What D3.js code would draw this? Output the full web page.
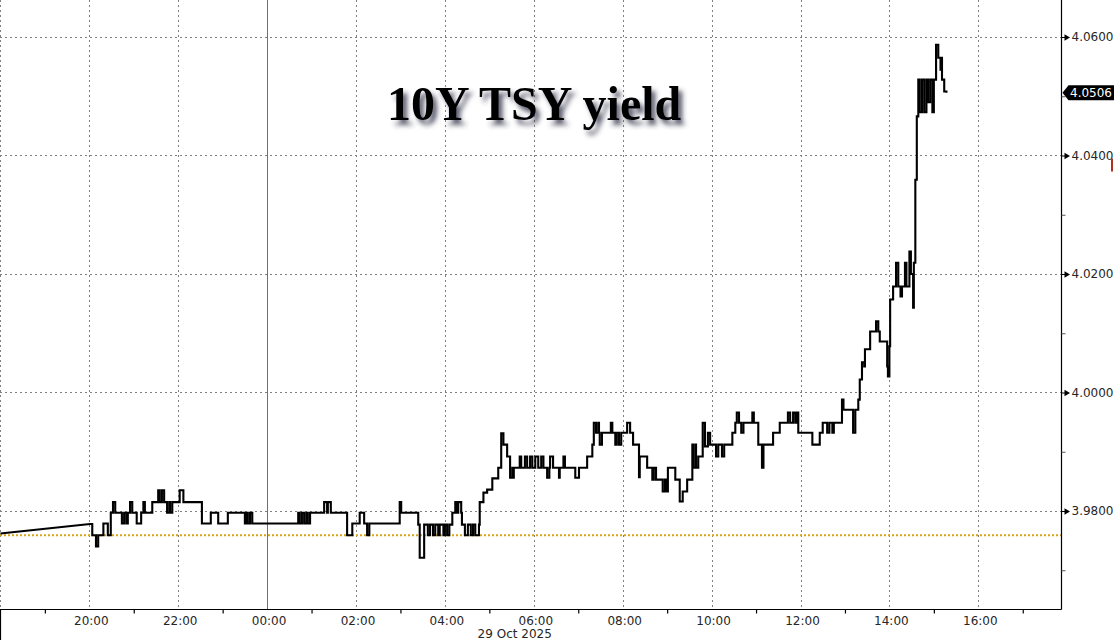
<!DOCTYPE html>
<html>
<head>
<meta charset="utf-8">
<script src="https://cdn.jsdelivr.net/npm/d3@7"></script>
<style>
  html, body { margin: 0; padding: 0; background: #ffffff; }
  svg { display: block; }
</style>
</head>
<body>
<svg id="chart" width="1114" height="640"></svg>
<script>
// ---------------- DATA ----------------
const title = "10Y TSY yield";
const dateLabel = "29 Oct 2025";
const prevClose = 3.9759;
const lastValue = 4.0506;
const yMajorTicks = [3.98, 4.00, 4.02, 4.04, 4.06];
const yMinorTicks = [3.97, 3.99, 4.01, 4.03, 4.05];
const xLabelHours = ["18:00","20:00","22:00","00:00","02:00","04:00","06:00","08:00","10:00","12:00","14:00","16:00"];
const xMinorHours = ["19:00","21:00","23:00","01:00","03:00","05:00","07:00","09:00","11:00","13:00","15:00","17:00"];

// tick times (HH:MM; hours >= 18 are 28 Oct, else 29 Oct)
const times = [
  "18:00","20:01","20:04","20:09","20:12","20:19","20:25","20:29","20:32","20:35",
  "20:44","20:47","20:50","20:52","20:55","20:58","21:04","21:10","21:13","21:15",
  "21:25","21:33","21:35","21:38","21:41","21:45","21:48","21:49","21:52","22:02",
  "22:07","22:32","22:44","22:54","23:07","23:30","23:32","23:34","23:37","23:40",
  "00:42","00:44","00:47","00:50","00:53","00:55","00:58","01:17","01:21","01:22",
  "01:26","01:48","01:55","02:05","02:11","02:15","02:18","02:59","03:01","03:24",
  "03:26","03:32","03:37","03:40","03:44","03:47","03:51","03:53","03:58","04:00",
  "04:03","04:06","04:10","04:14","04:16","04:18","04:22","04:23","04:27","04:31",
  "04:35","04:38","04:41","04:46","04:47","04:52","04:57","05:04","05:12","05:16",
  "05:19","05:24","05:28","05:31","05:32","05:33","05:41","05:43","05:48","05:51",
  "05:55","05:58","06:02","06:06","06:10","06:13","06:18","06:21","06:22","06:26",
  "06:34","06:35","06:40","06:42","06:56","07:01","07:12","07:19","07:21","07:24",
  "07:27","07:28","07:29","07:32","07:44","07:46","07:50","07:52","07:55","07:58",
  "08:06","08:10","08:14","08:22","08:23","08:33","08:40","08:42","08:45","08:54",
  "08:57","08:59","09:01","09:11","09:17","09:21","09:27","09:34","09:35","09:38",
  "09:39","09:42","09:48","09:51","09:55","09:58","10:06","10:09","10:14","10:17",
  "10:28","10:32","10:34","10:37","10:40","10:43","10:55","10:57","11:03","11:08",
  "11:10","11:23","11:32","11:43","11:46","11:50","11:53","11:55","11:57","12:16",
  "12:26","12:30","12:36","12:39","12:43","12:45","12:56","12:58","13:11","13:14",
  "13:18","13:20","13:23","13:26","13:27","13:34","13:42","13:45","13:47","13:57",
  "13:58","14:00","14:01","14:05","14:09","14:12","14:15","14:17","14:21","14:23",
  "14:27","14:29","14:32","14:33","14:35","14:37","14:39","14:41","14:44","14:47",
  "14:50","14:52","14:55","14:58","15:00","15:03","15:06","15:09","15:10","15:11",
  "15:14","15:17"
];
const yields = [
  3.9762,3.9778,3.9759,3.9740,3.9759,3.9779,3.9759,3.9797,3.9815,3.9797,
  3.9779,3.9797,3.9779,3.9797,3.9815,3.9797,3.9779,3.9797,3.9815,3.9797,
  3.9815,3.9835,3.9815,3.9835,3.9815,3.9797,3.9815,3.9797,3.9815,3.9835,
  3.9815,3.9779,3.9797,3.9779,3.9797,3.9779,3.9797,3.9779,3.9797,3.9779,
  3.9797,3.9779,3.9797,3.9779,3.9797,3.9779,3.9797,3.9815,3.9797,3.9815,
  3.9797,3.9759,3.9779,3.9797,3.9779,3.9759,3.9779,3.9815,3.9797,3.9777,
  3.9721,3.9777,3.9759,3.9777,3.9759,3.9777,3.9759,3.9777,3.9759,3.9777,
  3.9759,3.9777,3.9797,3.9815,3.9797,3.9815,3.9797,3.9777,3.9759,3.9777,
  3.9759,3.9777,3.9759,3.9777,3.9815,3.9831,3.9836,3.9855,3.9873,3.9931,
  3.9912,3.9892,3.9856,3.9873,3.9856,3.9873,3.9892,3.9873,3.9892,3.9873,
  3.9892,3.9873,3.9892,3.9873,3.9892,3.9873,3.9856,3.9873,3.9892,3.9873,
  3.9856,3.9873,3.9892,3.9873,3.9856,3.9873,3.9892,3.9912,3.9949,3.9932,
  3.9949,3.9932,3.9912,3.9932,3.9949,3.9932,3.9912,3.9932,3.9912,3.9932,
  3.9949,3.9932,3.9912,3.9857,3.9892,3.9873,3.9853,3.9873,3.9853,3.9833,
  3.9853,3.9833,3.9873,3.9853,3.9816,3.9833,3.9853,3.9912,3.9873,3.9912,
  3.9873,3.9892,3.9949,3.9909,3.9932,3.9912,3.9892,3.9912,3.9892,3.9912,
  3.9932,3.9949,3.9966,3.9949,3.9932,3.9949,3.9966,3.9949,3.9912,3.9873,
  3.9912,3.9932,3.9949,3.9966,3.9949,3.9966,3.9949,3.9966,3.9932,3.9912,
  3.9932,3.9949,3.9932,3.9949,3.9932,3.9949,3.9988,3.9971,3.9932,3.9971,
  3.9988,4.0022,4.0051,4.0044,4.0073,4.0103,4.0120,4.0103,4.0086,4.0044,
  4.0027,4.0078,4.0157,4.0179,4.0219,4.0179,4.0162,4.0179,4.0219,4.0179,
  4.0238,4.0200,4.0143,4.0219,4.0359,4.0466,4.0528,4.0473,4.0528,4.0473,
  4.0528,4.0490,4.0528,4.0473,4.0528,4.0587,4.0565,4.0545,4.0565,4.0528,
  4.0508,4.0506
];

// ---------------- HELPERS ----------------
const parseFull = d3.timeParse("%Y-%m-%d %H:%M");
function toDate(hm) {
  const h = +hm.slice(0, 2);
  return parseFull((h >= 18 ? "2025-10-28 " : "2025-10-29 ") + hm);
}
const series = times.map((t, i) => ({ t: toDate(t), v: yields[i] }));

// ---------------- LAYOUT ----------------
const W = 1114, H = 640;
const plotRight = 1061.5;
const plotBottom = 609.5;
const axisFont = "'DejaVu Sans', Verdana, sans-serif";

const svg = d3.select("#chart");

const x = d3.scaleTime()
  .domain([parseFull("2025-10-28 18:00"), parseFull("2025-10-29 18:00")])
  .range([0.4, 0.4 + 24 * 44.45]);
const y = d3.scaleLinear()
  .domain([3.98, 4.06])
  .range([511, 37]);

const defs = svg.append("defs");
defs.append("clipPath").attr("id", "plotClip")
  .append("rect").attr("x", 0).attr("y", 0).attr("width", plotRight).attr("height", plotBottom);
const shadow = defs.append("filter").attr("id", "titleShadow")
  .attr("x", "-10%").attr("y", "-20%").attr("width", "130%").attr("height", "160%");
shadow.append("feDropShadow")
  .attr("dx", 4).attr("dy", 5).attr("stdDeviation", 2.8)
  .attr("flood-color", "#34344a").attr("flood-opacity", 0.8);

// ---------------- GRID ----------------
const grid = svg.append("g").attr("clip-path", "url(#plotClip)");
grid.selectAll("line.hgrid").data(yMajorTicks).join("line")
  .attr("class", "hgrid")
  .attr("x1", 0).attr("x2", plotRight)
  .attr("y1", d => Math.round(y(d)) + 0.5).attr("y2", d => Math.round(y(d)) + 0.5)
  .attr("stroke", "#808080").attr("stroke-width", 1).attr("stroke-dasharray", "2,3");

grid.selectAll("line.vgrid").data(xLabelHours.map(toDate)).join("line")
  .attr("class", "vgrid")
  .attr("x1", d => Math.round(x(d)) + 0.5).attr("x2", d => Math.round(x(d)) + 0.5)
  .attr("y1", 0).attr("y2", plotBottom)
  .attr("stroke", d => d.getHours() === 0 ? "#707070" : "#808080")
  .attr("stroke-width", 1)
  .attr("stroke-dasharray", d => d.getHours() === 0 ? null : "2,3");

// previous close reference line
svg.append("line")
  .attr("x1", 0).attr("x2", plotRight)
  .attr("y1", y(prevClose)).attr("y2", y(prevClose))
  .attr("stroke", "#dca313").attr("stroke-width", 2).attr("stroke-dasharray", "2,2");

// ---------------- TITLE ----------------
svg.append("text")
  .attr("x", 387).attr("y", 120)
  .attr("font-family", "'Liberation Serif', 'Times New Roman', serif")
  .attr("font-weight", "bold")
  .attr("font-size", 48)
  .attr("fill", "#000")
  .attr("filter", "url(#titleShadow)")
  .text(title);

// ---------------- SERIES ----------------
const plot = svg.append("g").attr("clip-path", "url(#plotClip)");
const gapLine = d3.line().x(d => x(d.t)).y(d => y(d.v)).curve(d3.curveLinear);
const stepLine = d3.line().x(d => x(d.t)).y(d => y(d.v)).curve(d3.curveStepAfter);

plot.append("path").datum(series.slice(0, 2))
  .attr("d", gapLine)
  .attr("fill", "none").attr("stroke", "#000").attr("stroke-width", 2);
plot.append("path").datum(series.slice(1))
  .attr("d", stepLine)
  .attr("fill", "none").attr("stroke", "#000").attr("stroke-width", 2.1)
  .attr("stroke-linejoin", "miter");

// ---------------- AXES ----------------
svg.append("line").attr("x1", plotRight).attr("x2", plotRight)
  .attr("y1", 0).attr("y2", plotBottom).attr("stroke", "#000").attr("stroke-width", 1.2);
svg.append("line").attr("x1", 0).attr("x2", plotRight)
  .attr("y1", plotBottom).attr("y2", plotBottom).attr("stroke", "#000").attr("stroke-width", 1.2);
svg.append("line").attr("x1", 0.5).attr("x2", 0.5)
  .attr("y1", plotBottom).attr("y2", H).attr("stroke", "#000").attr("stroke-width", 1.2);

// X axis labels
const xAxis = svg.append("g").attr("transform", `translate(0,${plotBottom})`)
  .call(d3.axisBottom(x)
    .tickValues(xLabelHours.slice(1).map(toDate))
    .tickFormat(d3.timeFormat("%H:%M"))
    .tickSize(0).tickPadding(7));
xAxis.select(".domain").remove();
xAxis.selectAll("text")
  .attr("font-family", axisFont)
  .attr("font-size", 12).attr("fill", "#262626").attr("dx", "1.5");

// X minor ticks (odd hours)
const xMinor = svg.append("g").attr("transform", `translate(0,${plotBottom})`)
  .call(d3.axisBottom(x)
    .tickValues(xMinorHours.map(toDate))
    .tickFormat("")
    .tickSize(4));
xMinor.select(".domain").remove();
xMinor.selectAll("line").attr("stroke", "#000").attr("stroke-width", 1.2);

// date label
svg.append("text")
  .attr("x", x(toDate("06:00")) + 18).attr("y", 638)
  .attr("text-anchor", "end")
  .attr("font-family", axisFont)
  .attr("font-size", 12).attr("fill", "#262626")
  .text(dateLabel);

// Y axis labels
const yAxis = svg.append("g").attr("transform", `translate(${plotRight},0)`)
  .call(d3.axisRight(y)
    .tickValues(yMajorTicks)
    .tickFormat(d3.format(".4f"))
    .tickSize(0).tickPadding(10));
yAxis.select(".domain").remove();
yAxis.selectAll("text")
  .attr("font-family", axisFont)
  .attr("font-size", 12).attr("fill", "#262626");

// arrow-shaped major ticks
yAxis.selectAll(".tick").append("path")
  .attr("d", "M0,-0.6 L3,-0.6 L3,-3.2 L8.5,0 L3,3.2 L3,0.6 L0,0.6 Z")
  .attr("fill", "#000");

// Y minor ticks
const yMinor = svg.append("g").attr("transform", `translate(${plotRight},0)`)
  .call(d3.axisRight(y).tickValues(yMinorTicks).tickFormat("").tickSize(4));
yMinor.select(".domain").remove();
yMinor.selectAll("line").attr("stroke", "#555").attr("stroke-width", 1);

// last value label
const ly = y(lastValue);
svg.append("path")
  .attr("d", `M${plotRight + 1},${ly} L${plotRight + 7},${ly - 7.5} L${W},${ly - 7.5} L${W},${ly + 7.5} L${plotRight + 7},${ly + 7.5} Z`)
  .attr("fill", "#000");
svg.append("text")
  .attr("x", plotRight + 8.5).attr("y", ly)
  .attr("dy", "0.36em")
  .attr("font-family", axisFont)
  .attr("font-size", 12).attr("fill", "#fff")
  .text(d3.format(".4f")(lastValue));

// small red marker at right edge
svg.append("rect")
  .attr("x", 1111).attr("y", y(4.0400) + 3).attr("width", 2).attr("height", 13)
  .attr("fill", "#b03020");
</script>
</body>
</html>
